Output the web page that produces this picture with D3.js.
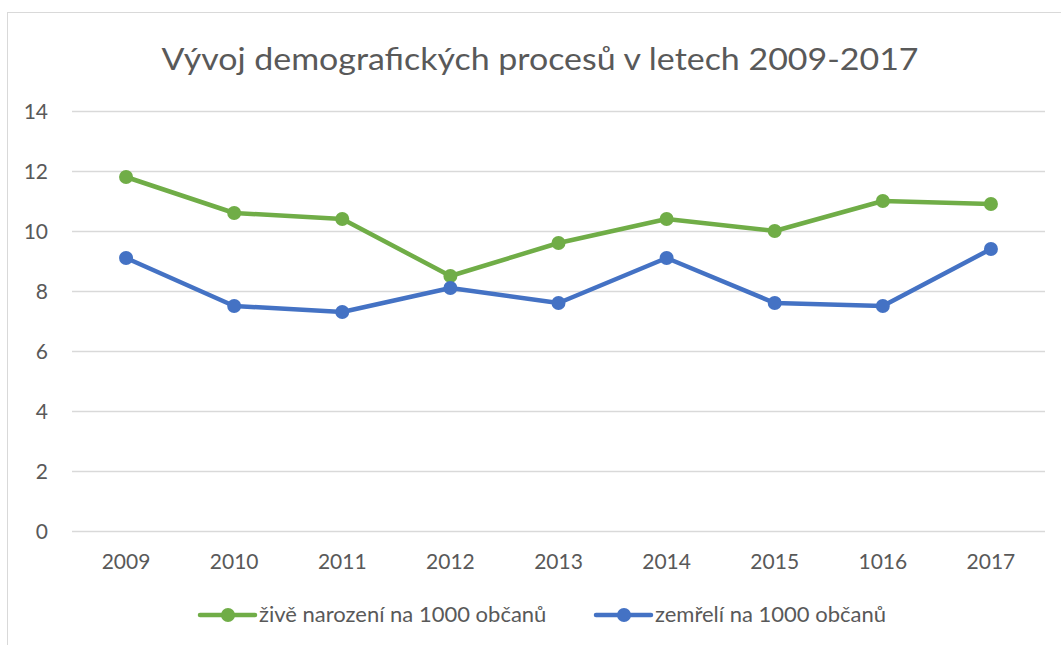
<!DOCTYPE html>
<html>
<head>
<meta charset="utf-8">
<script src="https://cdn.jsdelivr.net/npm/d3@7"></script>
<style>
  body { margin: 0; background: #fff; }
  text { font-family: Lato, "Open Sans", sans-serif; }
</style>
</head>
<body>
<div class="canvas"></div>
<script>
const years = ['2009', '2010', '2011', '2012', '2013', '2014', '2015', '1016', '2017'];
const narozeni = [11.8, 10.6, 10.4, 8.5, 9.6, 10.4, 10.0, 11.0, 10.9];
const zemreli = [9.1, 7.5, 7.3, 8.1, 7.6, 9.1, 7.6, 7.5, 9.4];
const yTicks = [0, 2, 4, 6, 8, 10, 12, 14];

const width = 1061, height = 645;
const plot = { left: 72, right: 1045, top: 111, bottom: 531 };

const svg = d3.select('.canvas')
  .append('svg')
  .attr('width', width)
  .attr('height', height);

// chart frame
svg.append('rect')
  .attr('x', 7.5).attr('y', 12.5)
  .attr('width', 1100).attr('height', 700)
  .attr('fill', 'none')
  .attr('stroke', '#d9d9d9');

svg.append('text')
  .attr('x', 540).attr('y', 70)
  .attr('text-anchor', 'middle')
  .attr('font-size', 31)
  .attr('fill', '#595959')
  .attr('textLength', 757)
  .attr('lengthAdjust', 'spacingAndGlyphs')
  .text('Vývoj demografických procesů v letech 2009-2017');

const x = d3.scaleBand()
  .domain(years)
  .range([plot.left, plot.right]);

const y = d3.scaleLinear()
  .domain([0, 14])
  .range([plot.bottom, plot.top]);

// gridlines
svg.append('g')
  .selectAll('line')
  .data(yTicks)
  .join('line')
  .attr('x1', plot.left).attr('x2', plot.right)
  .attr('y1', d => y(d) + 0.5).attr('y2', d => y(d) + 0.5)
  .attr('stroke', '#d9d9d9')
  .attr('stroke-width', 1.3);

// y labels
svg.append('g')
  .selectAll('text')
  .data(yTicks)
  .join('text')
  .attr('x', 48)
  .attr('y', d => y(d) + 7.5)
  .attr('text-anchor', 'end')
  .attr('font-size', 21)
  .attr('fill', '#595959')
  .text(d => d);

// x labels
svg.append('g')
  .selectAll('text')
  .data(years)
  .join('text')
  .attr('x', d => x(d) + x.bandwidth() / 2)
  .attr('y', 569)
  .attr('text-anchor', 'middle')
  .attr('font-size', 21)
  .attr('fill', '#595959')
  .text(d => d);

const series = [
  { name: 'živě narození na 1000 občanů', values: narozeni, color: '#70ad47', lx: 200 },
  { name: 'zemřelí na 1000 občanů', values: zemreli, color: '#4472c4', lx: 596 }
];

const line = d3.line()
  .x((d, i) => x(years[i]) + x.bandwidth() / 2)
  .y(d => y(d));

series.forEach(s => {
  const g = svg.append('g');
  g.append('path')
    .attr('d', line(s.values))
    .attr('fill', 'none')
    .attr('stroke', s.color)
    .attr('stroke-width', 4.5)
    .attr('stroke-linejoin', 'round')
    .attr('stroke-linecap', 'round');
  g.selectAll('circle')
    .data(s.values)
    .join('circle')
    .attr('cx', (d, i) => x(years[i]) + x.bandwidth() / 2)
    .attr('cy', d => y(d))
    .attr('r', 7)
    .attr('fill', s.color);

  // legend
  const lg = svg.append('g').attr('transform', `translate(${s.lx}, 615)`);
  lg.append('line')
    .attr('x1', 0).attr('x2', 55)
    .attr('stroke', s.color)
    .attr('stroke-width', 4.5)
    .attr('stroke-linecap', 'round');
  lg.append('circle')
    .attr('cx', 28).attr('r', 7)
    .attr('fill', s.color);
  lg.append('text')
    .attr('x', 59).attr('y', 7)
    .attr('font-size', 22)
    .attr('fill', '#595959')
    .text(s.name);
});
</script>
</body>
</html>
